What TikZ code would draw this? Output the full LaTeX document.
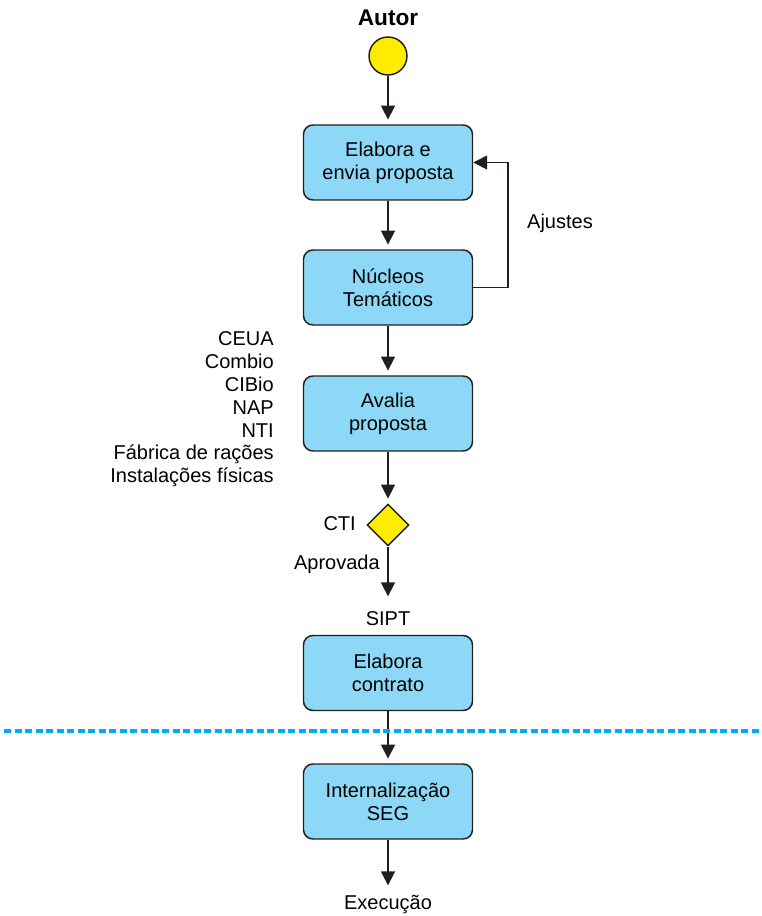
\documentclass[tikz,border=0pt]{standalone}
\usepackage{fontspec}
\setmainfont{Liberation Sans}
\usetikzlibrary{shapes.geometric,arrows.meta}

\definecolor{boxblue}{RGB}{141,216,246}
\definecolor{startyellow}{RGB}{255,236,0}
\definecolor{linegray}{RGB}{35,31,32}
\definecolor{sepcyan}{RGB}{0,174,239}

\begin{document}
\begin{tikzpicture}[x=0.75pt, y=-0.75pt,
        box/.style={rectangle, rounded corners=7pt, draw=linegray, line width=1.1pt,
        fill=boxblue, minimum width=126.75pt, minimum height=56.25pt, align=center,
        font=\fontsize{15}{17.1}\selectfont, inner sep=2pt},
        start/.style={circle, draw=linegray, line width=1.1pt, fill=startyellow,
        minimum size=28.5pt, inner sep=0pt},
        decision/.style={diamond, draw=linegray, line width=1.1pt, fill=startyellow,
        minimum size=31.5pt, inner sep=0pt},
        lbl/.style={font=\fontsize{15}{17.1}\selectfont, inner sep=0pt},
        flow/.style={-{Triangle[width=10.5pt, length=10.5pt]}, line width=1.2pt,
        linegray, shorten >=3.5pt},
    ]
    \useasboundingbox (0,0) rectangle (761,916);

    %% inicio
    \node[font=\fontsize{17}{20}\selectfont\bfseries, inner sep=0pt] (autor) at (388,18) {Autor};
    \node[start] (inicio) at (388,56) {};

    %% caixas
    \node[box] (elabora)  at (388,162.5) {Elabora e\\envia proposta};
    \node[box] (nucleos)  at (388,287.5) {Núcleos\\Temáticos};
    \node[box] (avalia)   at (388,413.5) {Avalia\\proposta};
    \node[decision] (cti) at (388,525) {};
    \node[box] (contrato) at (388,673) {Elabora\\contrato};
    \node[box] (seg)      at (388,801.5) {Internalização\\SEG};

    %% rotulos
    \node[lbl] (ajustes) at (560,223) {Ajustes};
    \node[lbl, align=right, anchor=east] (comites) at (274,409.5)
        {CEUA\\Combio\\CIBio\\NAP\\NTI\\Fábrica de rações\\Instalações físicas};
    \node[lbl, anchor=east] (ctilbl) at (356,524) {CTI};
    \node[lbl, anchor=east] (aprovada) at (380,564) {Aprovada};
    \node[lbl] (sipt) at (388,619) {SIPT};
    \node[lbl] (execucao) at (388,904) {Execução};
    \coordinate (fimaprov) at (388,601);
    \coordinate (fimexec) at (388,890);

    %% setas
    \draw[flow] (inicio) -- (elabora);
    \draw[flow] (elabora) -- (nucleos);
    \draw[flow, shorten >=0pt] (nucleos.east) -- ++(35,0) |- (elabora.east);
    \draw[flow] (nucleos) -- (avalia);
    \draw[flow] (avalia) -- (cti);
    \draw[flow] (cti) -- (fimaprov);
    \draw[flow] (contrato) -- (seg);
    \draw[flow] (seg) -- (fimexec);

    %% linha de separacao
    \draw[sepcyan, line width=2.3pt, dash pattern=on 5.3pt off 2.6pt] (4,731) -- (761,731);
\end{tikzpicture}
\end{document}
